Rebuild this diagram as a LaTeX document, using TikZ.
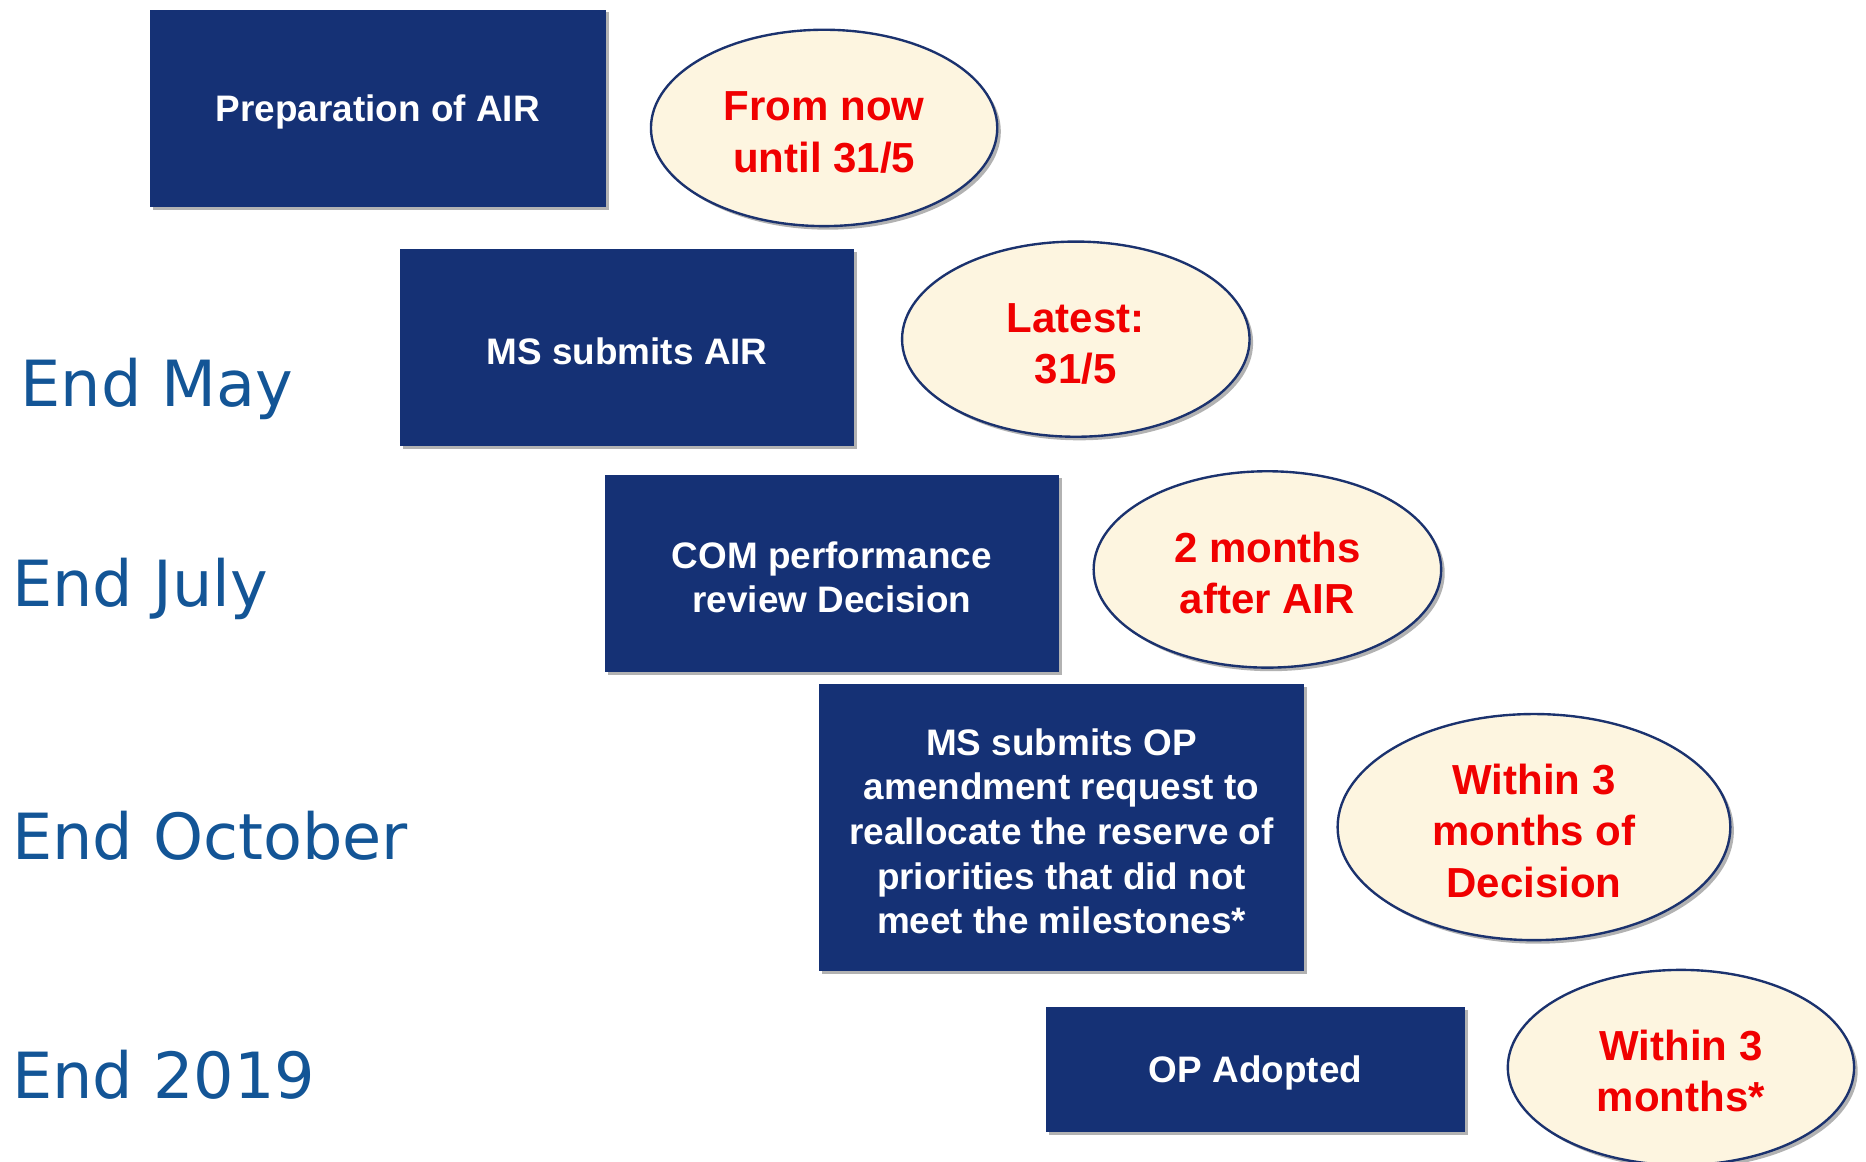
\documentclass[tikz,border=0pt]{standalone}
\usepackage{fontspec}
\setmainfont{Liberation Sans}
\newfontfamily\labfont{DejaVu Sans}
\usetikzlibrary{shapes.geometric,shadows}
\definecolor{boxblue}{RGB}{21,49,117}
\definecolor{cream}{RGB}{253,245,224}
\definecolor{ellline}{RGB}{27,50,110}
\definecolor{redtxt}{RGB}{240,0,0}
\definecolor{labblue}{RGB}{19,85,150}
\newcommand\padbox{\rule{0pt}{28.5pt}}
\newcommand\padred{\rule{0pt}{32pt}}
\begin{document}
\begin{tikzpicture}[x=1pt,y=-1pt,
  stepbox/.style={rectangle, fill=boxblue, text=white, align=center, inner sep=0pt,
    font=\fontsize{31}{37.5}\selectfont\bfseries,
    drop shadow={shadow xshift=2.5pt, shadow yshift=-2.5pt, opacity=0.3, fill=black}},
  timebubble/.style={ellipse, fill=cream, draw=ellline, line width=2pt, text=redtxt,
    align=center, inner sep=0pt,
    font=\fontsize{35.3}{43}\selectfont\bfseries,
    drop shadow={shadow xshift=3pt, shadow yshift=-3pt, opacity=0.3, fill=black}},
  datelabel/.style={anchor=base west, inner sep=0pt, text=labblue,
    font=\labfont\fontsize{53.5}{60}\selectfont}
]
\useasboundingbox (0,0) rectangle (1568,976);
\clip (0,0) rectangle (1568,976);

% step boxes
\node[stepbox, minimum width=383pt, minimum height=166pt] (b1) at (317.5,91) {\padbox Preparation of AIR};
\node[stepbox, minimum width=382pt, minimum height=166pt] (b2) at (527,292) {\padbox MS submits AIR};
\node[stepbox, minimum width=382pt, minimum height=166pt] (b3) at (699,482) {\padbox COM performance\\review Decision};
\node[stepbox, minimum width=408pt, minimum height=241pt] (b4) at (892,695.5) {\padbox MS submits OP\\amendment request to\\reallocate the reserve of\\priorities that did not\\meet the milestones*};
\node[stepbox, minimum width=352pt, minimum height=105pt] (b5) at (1055,898.5) {\padbox OP Adopted};

% time bubbles
\node[timebubble, minimum width=291pt, minimum height=165pt] (e1) at (692.5,107.5) {\padred From now\\until 31/5};
\node[timebubble, minimum width=292pt, minimum height=164pt] (e2) at (904,285) {\padred Latest:\\31/5};
\node[timebubble, minimum width=292pt, minimum height=165pt] (e3) at (1065,478.5) {\padred 2 months\\after AIR};
\node[timebubble, minimum width=330pt, minimum height=190pt] (e4) at (1289,695) {\padred Within 3\\months of\\Decision};
\node[timebubble, minimum width=291pt, minimum height=164pt] (e5) at (1412.5,897) {\padred Within 3\\months*};

% date labels
\node[datelabel] (l1) at (17,341.5) {End May};
\node[datelabel] (l2) at (10,510) {End July};
\node[datelabel] (l3) at (10,722) {End October};
\node[datelabel] (l4) at (10,923) {End 2019};
\end{tikzpicture}
\end{document}
